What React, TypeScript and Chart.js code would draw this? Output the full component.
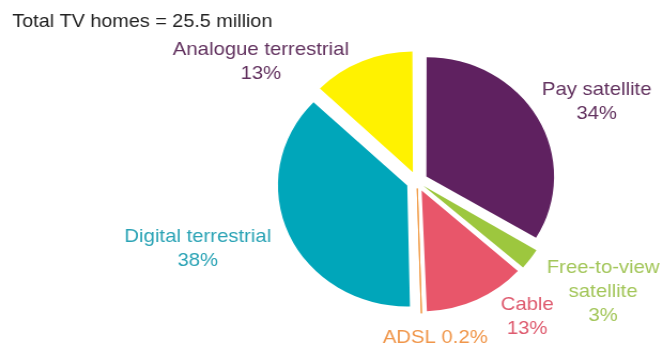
import React, { useEffect, useRef } from "react";
import { Chart, registerables } from "chart.js";

Chart.register(...registerables);

// ---- data ----
const TITLE = "Total TV homes = 25.5 million";
const categories = [
  "Pay satellite",
  "Free-to-view satellite",
  "Cable",
  "ADSL",
  "Digital terrestrial",
  "Analogue terrestrial",
];
const shares = [34, 3, 13, 0.2, 38, 13];
const labelLines = [
  ["Pay satellite"],
  ["Free-to-view", "satellite"],
  ["Cable"],
  ["ADSL"],
  ["Digital terrestrial"],
  ["Analogue terrestrial"],
];
const inlinePercent = [false, false, false, true, false, false];

// ---- styles / layout ----
const sliceColors = ["#5f2160", "#9dc73e", "#e8566a", "#f0963c", "#00a6ba", "#fff200"];
const sliceOffsets = [40, 29, 40, 28, 40, 40];
const sliceBorders = [0, 0, 0, 1, 0, 0];
const labelColors = ["#62325f", "#a3c65a", "#de5a6e", "#f0964a", "#2aa3b5", "#62325f"];
const labelDx = [168, 174, 103, 17, -205, -146];
const labelDy = [-92, 86.5, 123, 156, 55.5, -132];
const FONT = '"Liberation Sans", Arial, sans-serif';
const CANVAS_W = 620;
const CANVAS_H = 343;
const LINE_H = 24;

const labelPlugin = {
  id: "sliceLabels",
  afterDraw(chart: any) {
    const ctx = chart.ctx as CanvasRenderingContext2D;
    const arc = chart.getDatasetMeta(0).data[0];
    const cx = arc.x;
    const cy = arc.y;
    ctx.save();
    ctx.textBaseline = "middle";
    ctx.textAlign = "left";
    ctx.font = `18.5px ${FONT}`;
    ctx.fillStyle = "#222222";
    ctx.fillText(TITLE, 11.5, 21.5);

    ctx.textAlign = "center";
    ctx.font = `19px ${FONT}`;
    categories.forEach((_, i) => {
      const lines = labelLines[i].slice();
      const pct = `${shares[i]}%`;
      if (inlinePercent[i]) {
        lines[lines.length - 1] = `${lines[lines.length - 1]} ${pct}`;
      } else {
        lines.push(pct);
      }
      ctx.fillStyle = labelColors[i];
      lines.forEach((t, k) => {
        ctx.fillText(t, cx + labelDx[i], cy + labelDy[i] + k * LINE_H);
      });
    });
    ctx.restore();
  },
};

export default function App() {
  const ref = useRef<HTMLCanvasElement | null>(null);

  useEffect(() => {
    if (!ref.current) return;
    const chart = new Chart(ref.current, {
      type: "pie",
      data: {
        labels: categories,
        datasets: [
          {
            data: shares,
            backgroundColor: sliceColors,
            borderColor: sliceColors,
            borderWidth: sliceBorders,
            offset: sliceOffsets,
            radius: 118,
          } as any,
        ],
      },
      options: {
        responsive: false,
        animation: false,
        devicePixelRatio: 1,
        events: [],
        layout: { padding: { left: 160, right: 0, top: 20, bottom: 0 } },
        plugins: {
          legend: { display: false },
          tooltip: { enabled: false },
          title: { display: false },
        },
      },
      plugins: [labelPlugin],
    });
    return () => chart.destroy();
  }, []);

  return (
    <div style={{ position: "fixed", left: 0, top: 0, width: 663, height: 343, background: "#fff" }}>
      <canvas
        ref={ref}
        width={CANVAS_W}
        height={CANVAS_H}
        style={{ width: "663px", height: "343px", display: "block" }}
      />
    </div>
  );
}
